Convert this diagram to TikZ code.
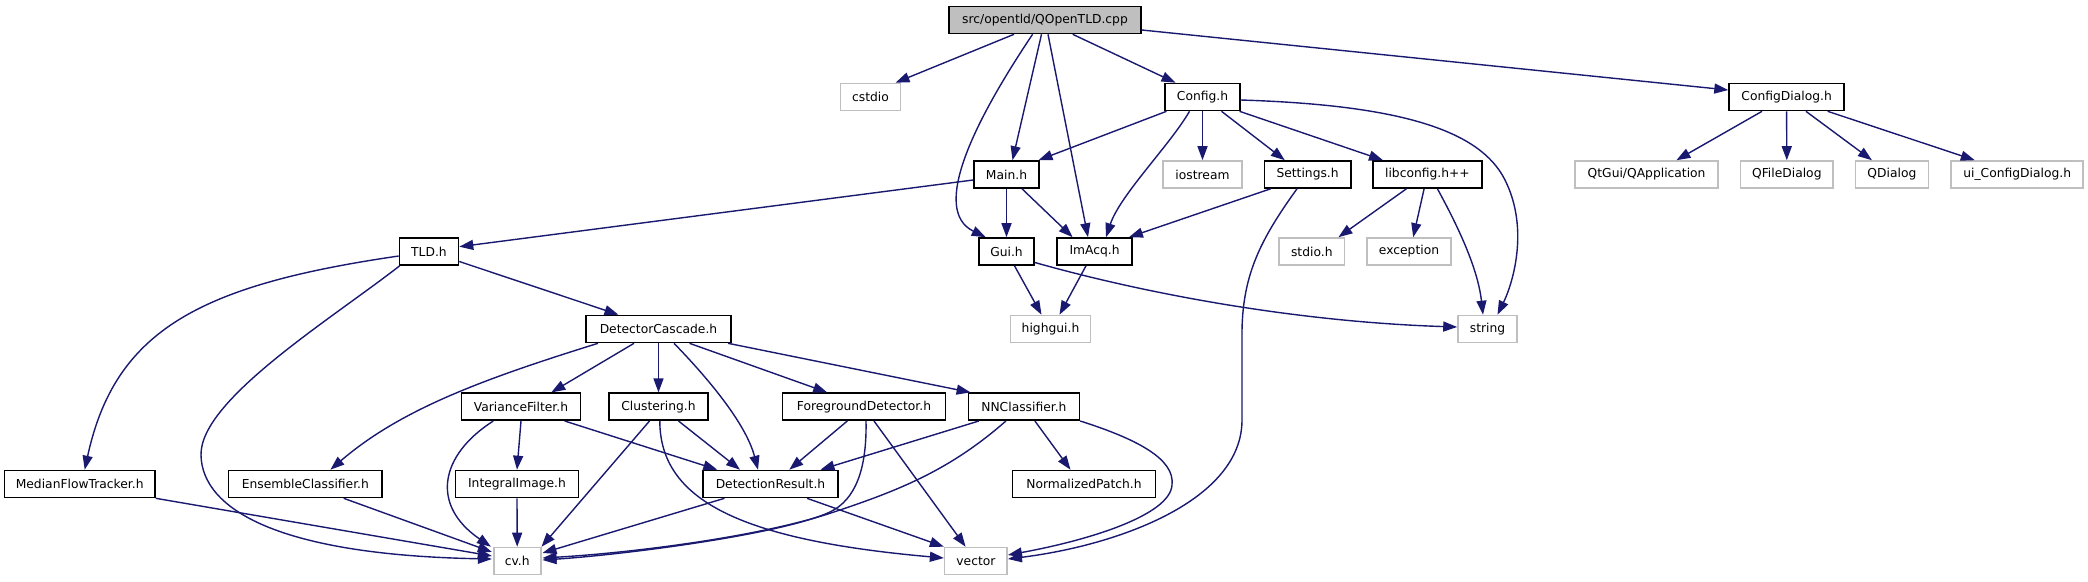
\documentclass[tikz,border=0pt]{standalone}
\usepackage{fontspec}
\setmainfont{DejaVu Sans}
\usetikzlibrary{arrows.meta,calc}
\definecolor{edgec}{HTML}{191970}
\definecolor{grayb}{HTML}{BFBFBF}
\tikzset{
 base/.style={rectangle, minimum height=27pt, inner sep=0pt, font=\fontsize{12.3}{14}\selectfont, line width=1.6pt},
 doc/.style={base, draw=black, fill=white},
 ext/.style={base, draw=grayb, fill=white},
 rootn/.style={base, draw=black, fill=grayb},
 e/.style={draw=edgec, line width=1.4pt, -{Triangle[length=14pt,width=10pt]}},
}
\begin{document}
\begin{tikzpicture}[x=1pt,y=-1pt]
\useasboundingbox (0,0) rectangle (2088,581);
% row 0
\node[rootn, minimum width=192pt] (root) at (1045,20) {src/opentld/QOpenTLD.cpp};
% row 1
\node[ext, minimum width=60pt] (cstdio) at (870.5,97) {cstdio};
\node[doc, minimum width=74.5pt] (config) at (1202.5,97) {Config.h};
\node[doc, minimum width=115pt] (cdlg) at (1786.6,97) {ConfigDialog.h};
% row 2
\node[doc, minimum width=65pt] (main) at (1006.5,174.5) {Main.h};
\node[ext, minimum width=79pt] (iostream) at (1202.5,174.5) {iostream};
\node[doc, minimum width=86.6pt] (settings) at (1307.6,174.5) {Settings.h};
\node[doc, minimum width=109pt] (libcfg) at (1427.4,174.5) {libconfig.h++};
\node[ext, minimum width=143pt] (qapp) at (1646.6,174.5) {QtGui/QApplication};
\node[ext, minimum width=92.6pt] (qfile) at (1786.8,174.5) {QFileDialog};
\node[ext, minimum width=72.8pt] (qdlg) at (1891.9,174.5) {QDialog};
\node[ext, minimum width=132pt] (uicfg) at (2017.2,174.5) {ui\_ConfigDialog.h};
% row 3
\node[doc, minimum width=59pt] (tld) at (429,251.5) {TLD.h};
\node[doc, minimum width=55pt] (gui) at (1006.5,251.5) {Gui.h};
\node[doc, minimum width=75pt] (imacq) at (1094.6,251.5) {ImAcq.h};
\node[ext, minimum width=65.6pt] (stdio) at (1311.8,251.5) {stdio.h};
\node[ext, minimum width=84pt] (exception) at (1409,251.5) {exception};
% row 4
\node[doc, minimum width=145.5pt] (dc) at (658.5,329) {DetectorCascade.h};
\node[ext, minimum width=80pt] (highgui) at (1050.5,329) {highgui.h};
\node[ext, minimum width=59pt] (string) at (1487.5,329) {string};
% row 5
\node[doc, minimum width=118.7pt] (vf) at (521,406.7) {VarianceFilter.h};
\node[doc, minimum width=99pt] (clus) at (658.5,406.7) {Clustering.h};
\node[doc, minimum width=163pt] (fd) at (864,406.7) {ForegroundDetector.h};
\node[doc, minimum width=111pt] (nn) at (1023.9,406.7) {NNClassifier.h};
% row 6
\node[doc, minimum width=150.4pt] (mft) at (79.7,484) {MedianFlowTracker.h};
\node[doc, minimum width=153.5pt] (ens) at (305.4,484) {EnsembleClassifier.h};
\node[doc, minimum width=123.2pt] (ii) at (517,484) {IntegralImage.h};
\node[doc, minimum width=134.8pt] (dr) at (770.5,484) {DetectionResult.h};
\node[doc, minimum width=143pt] (np) at (1084,484) {NormalizedPatch.h};
% row 7
\node[ext, minimum width=47pt] (cv) at (517.2,561) {cv.h};
\node[ext, minimum width=62.5pt] (vector) at (975.9,561) {vector};

% root edges
\draw[e] ($(root.south)+(-31,0)$) -- ($(cstdio.north)+(25,0)$);
\draw[e] ($(root.south)+(-12.4,0)$) .. controls (975,120) and (930,210) .. ($(gui.north)+(-20.8,0)$);
\draw[e] ($(root.south)+(-3.5,0)$) -- ($(main.north)+(6,0)$);
\draw[e] ($(root.south)+(3,0)$) -- ($(imacq.north)+(-6.6,0)$);
\draw[e] ($(root.south)+(27.7,0)$) -- ($(config.north)+(-27,0)$);
\draw[e] ($(root.east)+(0,10)$) -- ($(cdlg.west)+(0,-7)$);
% config dialog
\draw[e] ($(cdlg.south)+(-24.6,0)$) -- ($(qapp.north)+(29.8,0)$);
\draw[e] (cdlg.south) -- (qfile.north);
\draw[e] ($(cdlg.south)+(19.3,0)$) -- ($(qdlg.north)+(-20,0)$);
\draw[e] ($(cdlg.south)+(41,0)$) -- ($(uicfg.north)+(-42.4,0)$);
% config
\draw[e] ($(config.south)+(-36,0)$) -- ($(main.north)+(32,0)$);
\draw[e] ($(config.south)+(-13,0)$) .. controls (1170,145) and (1120,195) .. ($(imacq.north)+(11.4,0)$);
\draw[e] (config.south) -- (iostream.north);
\draw[e] ($(config.south)+(19,0)$) -- ($(settings.north)+(-22.8,0)$);
\draw[e] ($(config.south)+(37,0)$) -- ($(libcfg.north)+(-44.4,0)$);
\draw[e] ($(config.east)+(0,3)$) .. controls (1400,105) and (1480,130) .. (1505,180) .. controls (1530,230) and (1512,285) .. ($(string.north)+(10,0)$);
% main
\draw[e] ($(main.west)+(0,5.5)$) -- ($(tld.east)+(0,-4.8)$);
\draw[e] (main.south) -- (gui.north);
\draw[e] ($(main.south)+(15.5,0)$) -- ($(imacq.north)+(-22,0)$);
% settings
\draw[e] ($(settings.south)+(-37,0)$) -- ($(imacq.north east)+(-4,0)$);
\draw[e] ($(settings.south)+(-10.6,0)$) .. controls (1260,240) and (1243,275) .. (1242,330) -- (1242,420) .. controls (1242,500) and (1120,545) .. ($(vector.east)+(0,-2)$);
% libconfig
\draw[e] ($(libcfg.south)+(-21,0)$) -- ($(stdio.north)+(26.6,0)$);
\draw[e] ($(libcfg.south)+(-3.3,0)$) -- ($(exception.north)+(4.2,0)$);
\draw[e] ($(libcfg.south)+(10,0)$) .. controls (1460,230) and (1478,270) .. ($(string.north)+(-4.5,0)$);
% gui, imacq
\draw[e] ($(gui.south)+(8,0)$) -- ($(highgui.north)+(-9,0)$);
\draw[e] ($(gui.east)+(0,11)$) .. controls (1150,295) and (1300,322) .. ($(string.west)+(0,-2)$);
\draw[e] ($(imacq.south)+(-8.6,0)$) -- ($(highgui.north)+(9,0)$);
% tld
\draw[e] ($(tld.east)+(0,10)$) -- ($(dc.north)+(-40,0)$);
\draw[e] ($(tld.west)+(0,4.5)$) .. controls (200,285) and (115,330) .. ($(mft.north)+(5,0)$);
\draw[e] ($(tld.south west)+(1,0)$) .. controls (330,320) and (200,400) .. (201,455) .. controls (202,510) and (280,555) .. ($(cv.west)+(-1,-2)$);
% detector cascade
\draw[e] ($(dc.south)+(-60.5,0)$) .. controls (480,380) and (400,410) .. ($(ens.north)+(25,0)$);
\draw[e] ($(dc.south)+(-24.5,0)$) -- ($(vf.north)+(30.3,0)$);
\draw[e] (dc.south) -- (clus.north);
\draw[e] ($(dc.south)+(15.5,0)$) .. controls (700,370) and (745,420) .. ($(dr.north)+(-12.5,0)$);
\draw[e] ($(dc.south)+(31,0)$) -- ($(fd.north)+(-36.8,0)$);
\draw[e] ($(dc.south east)+(-4,0)$) -- ($(nn.north west)+(3,0)$);
% variance filter
\draw[e] ($(vf.south)+(-27.7,0)$) .. controls (440,455) and (430,505) .. ($(cv.north west)+(-2,0)$);
\draw[e] (vf.south) -- (ii.north);
\draw[e] ($(vf.south)+(43.7,0)$) -- ($(dr.north west)+(15,0)$);
% integral image, ensemble, median flow
\draw[e] (ii.south) -- (cv.north);
\draw[e] ($(ens.south)+(38.3,0)$) -- ($(cv.west)+(-1,-9)$);
\draw[e] (mft.south east) -- ($(cv.west)+(-1,-5)$);
% clustering
\draw[e] ($(clus.south)+(-9,0)$) -- (cv.north east);
\draw[e] ($(clus.south)+(20,0)$) -- ($(dr.north)+(-30.5,0)$);
\draw[e] ($(clus.south)+(1.3,0)$) .. controls (660,500) and (740,540) .. ($(vector.west)+(0,-3)$);
% foreground detector
\draw[e] ($(fd.south)+(-16.7,0)$) -- ($(dr.north)+(18.8,0)$);
\draw[e] ($(fd.south)+(2,0)$) .. controls (867,470) and (855,500) .. (830,512) .. controls (780,535) and (620,555) .. ($(cv.east)+(1,-1)$);
\draw[e] ($(fd.south)+(10,0)$) -- ($(vector.north)+(-10.3,0)$);
% nn classifier
\draw[e] ($(nn.south)+(-45,0)$) -- ($(dr.north)+(50,0)$);
\draw[e] ($(nn.south)+(-18,0)$) .. controls (950,470) and (900,490) .. (834,512) .. controls (760,537) and (630,553) .. ($(cv.east)+(1,-3)$);
\draw[e] ($(nn.south)+(11,0)$) -- ($(np.north)+(-13.5,0)$);
\draw[e] (nn.south east) .. controls (1140,440) and (1175,460) .. (1172,485) .. controls (1170,515) and (1090,540) .. ($(vector.east)+(0,-6)$);
% detection result
\draw[e] ($(dr.south)+(-46,0)$) -- ($(cv.east)+(1,-8)$);
\draw[e] ($(dr.south)+(36.5,0)$) -- (vector.north west);
\end{tikzpicture}
\end{document}
